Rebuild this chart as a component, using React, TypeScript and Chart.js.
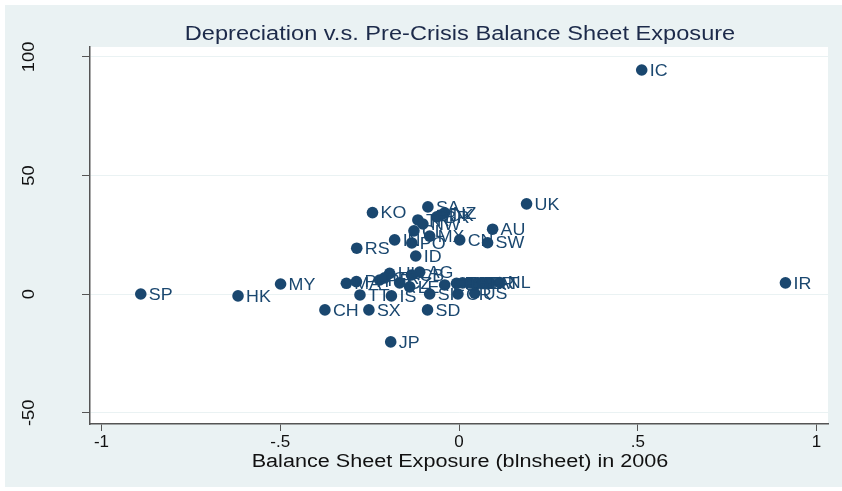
import React, { useEffect, useRef } from "react";
import { Chart, registerables } from "chart.js";

Chart.register(...registerables);

const codes = [
  "IC", "UK", "IR", "SP", "HK", "MY", "JP", "CH", "SX", "SD",
  "KO", "SA", "NZ", "DK", "BR", "TR", "NW", "CL", "MX", "IN",
  "PO", "CN", "AU", "SW", "RS", "ID", "HU", "AG", "CB", "MA",
  "PH", "PE", "GR", "CZ", "LE", "EC", "FI", "DE", "BE", "IT",
  "FR", "AT", "NL", "TT", "IS", "SI", "CR", "US",
];
const exposure = [
  0.511, 0.189, 0.913, -0.89, -0.618, -0.499, -0.191, -0.375, -0.252, -0.088,
  -0.242, -0.087, -0.04, -0.051, -0.062, -0.115, -0.101, -0.126, -0.082, -0.18,
  -0.132, 0.002, 0.094, 0.08, -0.286, -0.121, -0.194, -0.11, -0.133, -0.315,
  -0.287, -0.222, -0.208, -0.166, -0.138, -0.04, -0.007, 0.01, 0.03, 0.049,
  0.066, 0.086, 0.114, -0.277, -0.189, -0.082, -0.003, 0.044,
];
const depreciation = [
  94.5, 38.1, 4.8, 0.1, -0.7, 4.3, -20.1, -6.6, -6.6, -6.6,
  34.4, 36.8, 34.3, 33.4, 32.6, 31.3, 29.6, 26.7, 24.5, 22.9,
  21.6, 22.9, 27.4, 21.7, 19.4, 16.1, 8.8, 9.3, 8.1, 4.6,
  5.3, 6.0, 6.9, 4.8, 3.1, 3.9, 4.6, 4.8, 4.8, 4.6,
  4.8, 4.8, 4.9, -0.3, -0.7, 0.1, 0.1, 0.4,
];
const xTickValues = [-1, -0.5, 0, 0.5, 1];
const yTickValues = [-50, 0, 50, 100];
const titleText = "Depreciation v.s. Pre-Crisis Balance Sheet Exposure";
const xTitleText = "Balance Sheet Exposure (blnsheet) in 2006";

const FONT = "'Liberation Sans', Arial, sans-serif";
const NAVY = "#1a476f";
const BG = "#eaf2f3";

function fmtX(v: number): string {
  if (v === 0) return "0";
  const s = String(v);
  return s.replace(/^(-?)0\./, "$1.");
}

function stretchedText(ctx: any, text: string, x: number, y: number, sx: number) {
  ctx.save();
  ctx.translate(x, y);
  ctx.scale(sx, 1);
  ctx.fillText(text, 0, 0);
  ctx.restore();
}

const decorPlugin = {
  id: "decor",
  beforeDraw(chart: any) {
    const { ctx, width, height, chartArea } = chart;
    ctx.save();
    ctx.fillStyle = "#ffffff";
    ctx.fillRect(0, 0, width, height);
    ctx.fillStyle = BG;
    ctx.fillRect(5, 5, width - 5, height - 9);
    ctx.fillStyle = "#ffffff";
    ctx.fillRect(chartArea.left, chartArea.top, chartArea.right - chartArea.left, chartArea.bottom - chartArea.top);
    ctx.restore();
  },
  afterDraw(chart: any) {
    const { ctx, chartArea } = chart;
    const yScale = chart.scales.y;
    ctx.save();
    // rotated y tick labels
    ctx.fillStyle = "#111111";
    ctx.font = `17px ${FONT}`;
    ctx.textAlign = "center";
    ctx.textBaseline = "middle";
    for (const t of yScale.ticks) {
      const py = yScale.getPixelForValue(t.value);
      ctx.save();
      ctx.translate(29, py);
      ctx.rotate(-Math.PI / 2);
      ctx.scale(1.08, 1);
      ctx.fillText(String(t.value), 0, 0);
      ctx.restore();
    }
    // title
    const cx = (chartArea.left + chartArea.right) / 2;
    ctx.fillStyle = "#1c2a4a";
    ctx.font = `20px ${FONT}`;
    stretchedText(ctx, titleText, cx + 1, 34, 1.18);
    // x axis title
    ctx.fillStyle = "#111111";
    ctx.font = `18px ${FONT}`;
    stretchedText(ctx, xTitleText, cx + 1, 462, 1.2);
    // point labels
    const meta = chart.getDatasetMeta(0);
    ctx.fillStyle = NAVY;
    ctx.font = `17px ${FONT}`;
    ctx.textAlign = "left";
    meta.data.forEach((el: any, i: number) => {
      stretchedText(ctx, codes[i], el.x + 8, el.y + 1, 1.05);
    });
    ctx.restore();
  },
};

export default function App() {
  const ref = useRef<HTMLCanvasElement | null>(null);
  useEffect(() => {
    document.body.style.margin = "0";
    const canvas = ref.current;
    if (!canvas) return;
    const data = exposure.map((x, i) => ({ x, y: depreciation[i] }));
    const chart = new Chart(canvas, {
      type: "scatter",
      data: {
        datasets: [
          {
            data,
            backgroundColor: NAVY,
            borderWidth: 0,
            pointRadius: 5.8,
            pointHoverRadius: 5.8,
          },
        ],
      },
      options: {
        animation: false,
        responsive: false,
        devicePixelRatio: 1,
        layout: { padding: { left: 0, right: 14, top: 47, bottom: 0 } },
        plugins: {
          legend: { display: false },
          tooltip: { enabled: false },
          title: { display: false },
        },
        scales: {
          x: {
            type: "linear",
            min: -1.032,
            max: 1.032,
            afterBuildTicks: (s: any) => {
              s.ticks = xTickValues.map((v) => ({ value: v }));
            },
            afterFit: (s: any) => {
              s.height = 67;
            },
            grid: {
              drawOnChartArea: false,
              color: "rgba(0,0,0,0)",
              tickColor: "#555555",
              tickLength: 7,
            },
            border: { color: "#555555", width: 1.5 },
            ticks: {
              color: "#111111",
              font: { family: FONT, size: 17 },
              padding: 1,
              maxRotation: 0,
              callback: (v: any) => fmtX(Number(v)),
            },
          },
          y: {
            type: "linear",
            min: -54.7,
            max: 104.2,
            afterBuildTicks: (s: any) => {
              s.ticks = yTickValues.map((v) => ({ value: v }));
            },
            afterFit: (s: any) => {
              s.width = 90;
            },
            grid: {
              drawOnChartArea: true,
              color: BG,
              tickColor: "#555555",
              tickLength: 8,
            },
            border: { color: "#555555", width: 1.5 },
            ticks: { display: false },
          },
        },
      },
      plugins: [decorPlugin],
    });
    return () => chart.destroy();
  }, []);
  return (
    <div style={{ position: "absolute", left: 0, top: 0, width: 842, height: 491 }}>
      <canvas ref={ref} width={842} height={491} style={{ width: 842, height: 491, display: "block" }} />
    </div>
  );
}
